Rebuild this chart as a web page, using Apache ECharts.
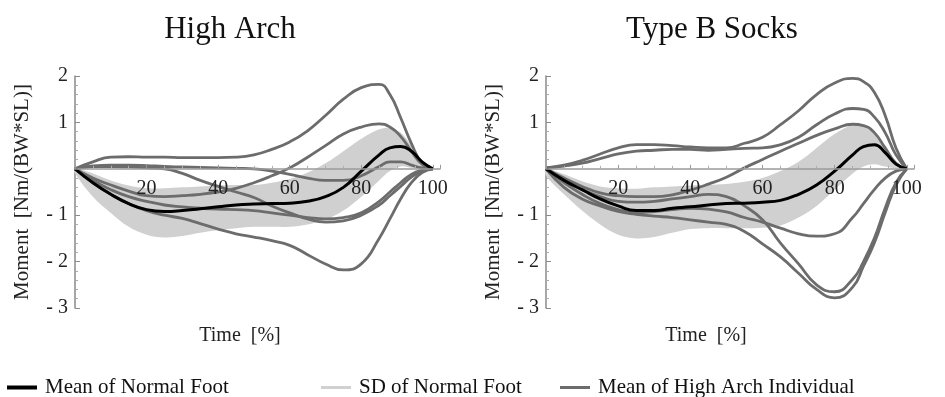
<!DOCTYPE html>
<html>
<head>
<meta charset="utf-8">
<script src="https://cdn.jsdelivr.net/npm/echarts@6/dist/echarts.min.js"></script>
<style>
html,body{margin:0;padding:0;background:#fff;}
#chart{width:945px;height:397px;}
</style>
</head>
<body>
<div id="chart"></div>
<script>
// ---- data ----
const timePct = [0,5,10,15,20,25,30,35,40,45,50,55,60,65,70,75,80,85,88,91,94,97,100];
const xTickLabels = [20,40,60,80,100];
const yTickLabels = [-3,-2,-1,1,2];

// High Arch panel
const meanNormalL = [0,-0.3,-0.55,-0.75,-0.88,-0.92,-0.9,-0.86,-0.82,-0.78,-0.76,-0.75,-0.74,-0.7,-0.6,-0.4,-0.05,0.3,0.45,0.48,0.38,0.15,0];
const sdUpperL = [0,-0.1,-0.25,-0.36,-0.42,-0.42,-0.4,-0.38,-0.36,-0.35,-0.35,-0.3,-0.22,-0.08,0.12,0.38,0.65,0.85,0.88,0.78,0.5,0.18,0];
const sdLowerL = [-0.1,-0.6,-0.95,-1.25,-1.42,-1.48,-1.45,-1.38,-1.32,-1.28,-1.25,-1.25,-1.25,-1.2,-1.1,-0.9,-0.6,-0.25,-0.05,0.05,0.02,0,0];
const archL1 = [0,0.15,0.25,0.26,0.25,0.25,0.24,0.24,0.24,0.25,0.3,0.42,0.58,0.82,1.15,1.5,1.75,1.82,1.6,1.1,0.55,0.12,0];
const archL2 = [0,-0.2,-0.35,-0.48,-0.58,-0.6,-0.58,-0.55,-0.5,-0.42,-0.3,-0.15,0.02,0.25,0.5,0.75,0.9,0.97,0.9,0.7,0.38,0.1,0];
const archL3 = [0,0.06,0.08,0.08,0.07,0.05,0.04,0.03,0.02,0.01,0,-0.05,-0.12,-0.2,-0.25,-0.25,-0.15,0.05,0.15,0.15,0.08,0.02,0];
const archL4 = [0,0.05,0.05,0.04,0.02,0,-0.1,-0.25,-0.38,-0.5,-0.62,-0.8,-0.95,-1.08,-1.15,-1.12,-1.0,-0.78,-0.58,-0.38,-0.18,-0.05,0];
const archL5 = [0,-0.3,-0.55,-0.75,-0.9,-1.0,-1.07,-1.18,-1.3,-1.4,-1.47,-1.55,-1.65,-1.85,-2.05,-2.18,-2.05,-1.5,-1.08,-0.65,-0.3,-0.08,0];
const archL6 = [0,-0.25,-0.45,-0.6,-0.7,-0.78,-0.82,-0.85,-0.87,-0.88,-0.9,-0.95,-1.0,-1.05,-1.08,-1.05,-0.95,-0.7,-0.5,-0.3,-0.12,-0.03,0];

// Type B Socks panel
const meanNormalR = [0,-0.25,-0.45,-0.65,-0.8,-0.9,-0.9,-0.85,-0.82,-0.78,-0.75,-0.74,-0.72,-0.68,-0.55,-0.35,-0.05,0.3,0.48,0.52,0.35,0.1,0];
const sdUpperR = [0,-0.12,-0.27,-0.38,-0.42,-0.43,-0.4,-0.38,-0.36,-0.35,-0.33,-0.28,-0.2,-0.05,0.15,0.45,0.75,0.95,0.92,0.75,0.45,0.15,0];
const sdLowerR = [-0.15,-0.55,-0.9,-1.2,-1.42,-1.5,-1.47,-1.38,-1.3,-1.28,-1.28,-1.28,-1.27,-1.22,-1.05,-0.8,-0.45,-0.1,0.05,0.1,0.05,0.01,0];
const archR1 = [0.02,0.08,0.18,0.32,0.45,0.52,0.52,0.5,0.47,0.45,0.45,0.55,0.68,0.95,1.25,1.6,1.85,1.95,1.88,1.65,1.15,0.45,0];
const archR2 = [0.02,0.06,0.12,0.22,0.32,0.38,0.4,0.42,0.42,0.4,0.42,0.44,0.45,0.52,0.68,0.95,1.18,1.3,1.28,1.12,0.78,0.3,0];
const archR3 = [0,-0.2,-0.38,-0.52,-0.58,-0.6,-0.6,-0.56,-0.46,-0.33,-0.18,0.02,0.2,0.38,0.55,0.72,0.86,0.96,0.93,0.78,0.45,0.12,0];
const archR4 = [0,-0.3,-0.55,-0.75,-0.88,-0.95,-0.92,-0.88,-0.85,-0.87,-0.93,-1.05,-1.15,-1.28,-1.4,-1.45,-1.4,-1.05,-0.75,-0.45,-0.2,-0.05,0];
const archR5 = [0,-0.25,-0.45,-0.6,-0.7,-0.72,-0.7,-0.65,-0.6,-0.55,-0.6,-0.8,-1.1,-1.6,-2.05,-2.5,-2.65,-2.38,-2.0,-1.5,-0.85,-0.3,0];
const archR6 = [0,-0.4,-0.65,-0.8,-0.92,-0.98,-1.02,-1.05,-1.1,-1.15,-1.2,-1.35,-1.62,-1.9,-2.25,-2.6,-2.78,-2.55,-2.1,-1.6,-0.95,-0.35,0];

const panelTitles = ['High Arch', 'Type B Socks'];
const yName = 'Moment  [Nm/(BW*SL)]';
const xName = 'Time  [%]';
const legendNames = ['Mean of Normal Foot', 'SD of Normal Foot', 'Mean of High Arch Individual'];

// ---- build ----
const FONT = '"Liberation Serif","Times New Roman",serif';
const GRAY = '#6c6c6c';
const BAND = '#d0d0d0';
const Y_MIN = -3, Y_MAX = 2, GRID_TOP = 76, GRID_H = 232;
const ZERO_OFFSET = -GRID_H * (0 - Y_MIN) / (Y_MAX - Y_MIN); // move x axis up to y = 0
const pairs = ys => timePct.map((x, i) => [x, ys[i]]);

function panelSeries(idx, mean, up, lo, indiv) {
  const s = [];
  s.push({
    name: legendNames[1], type: 'custom', xAxisIndex: idx, yAxisIndex: idx,
    coordinateSystem: 'cartesian2d', silent: true, clip: false, z: 1,
    color: BAND, itemStyle: { color: BAND },
    data: [[0, 0]],
    renderItem: function (params, api) {
      const top = timePct.map((x, i) => api.coord([x, up[i]]));
      const bot = timePct.map((x, i) => api.coord([x, lo[i]])).reverse();
      return { type: 'polygon', shape: { points: top.concat(bot), smooth: 0.35 }, style: { fill: BAND } };
    }
  });
  indiv.forEach(ys => s.push({
    name: legendNames[2], type: 'line', xAxisIndex: idx, yAxisIndex: idx,
    smooth: true, symbol: 'none', silent: true, color: GRAY, z: 3,
    lineStyle: { color: GRAY, width: 2.8 }, data: pairs(ys)
  }));
  s.push({
    name: legendNames[0], type: 'line', xAxisIndex: idx, yAxisIndex: idx,
    smooth: true, symbol: 'none', silent: true, color: '#000', z: 5,
    lineStyle: { color: '#000', width: 3 }, data: pairs(mean)
  });
  return s;
}

function xAxisOpt(idx) {
  return {
    type: 'value', gridIndex: idx, min: 0, max: 102, interval: 20,
    position: 'bottom', offset: ZERO_OFFSET, z: 10,
    axisLine: { onZero: false, lineStyle: { color: '#9a9a9a', width: 1.5 } },
    axisTick: { show: true, inside: true, length: 4, lineStyle: { color: '#9a9a9a' } },
    minorTick: { show: true, splitNumber: 4, length: 3, lineStyle: { color: '#b0b0b0' } },
    splitLine: { show: false },
    axisLabel: {
      margin: 10, fontFamily: FONT, fontSize: 20, color: '#222',
      formatter: v => xTickLabels.indexOf(v) >= 0 ? String(v) : ''
    }
  };
}
function yAxisOpt(idx) {
  return {
    type: 'value', gridIndex: idx, min: Y_MIN, max: Y_MAX, interval: 1,
    name: yName, nameLocation: 'middle', nameGap: 42, nameRotate: 90,
    nameTextStyle: { fontFamily: FONT, fontSize: 21, color: '#222' },
    axisLine: { show: true, onZero: false, lineStyle: { color: '#8a8a8a', width: 1.5 } },
    axisTick: { show: true, inside: true, length: 5, lineStyle: { color: '#8a8a8a' } },
    minorTick: { show: true, splitNumber: 5, length: 3, lineStyle: { color: '#aaa' } },
    splitLine: { show: false },
    axisLabel: {
      margin: 7, fontFamily: FONT, fontSize: 20, color: '#222',
      formatter: v => yTickLabels.indexOf(v) >= 0 ? (v < 0 ? '- ' + Math.abs(v) : String(v)) : ''
    }
  };
}

function legendOpt(name, left, h) {
  return {
    data: [name], left: left, top: 372, icon: 'rect', itemWidth: 30, itemHeight: h,
    itemGap: 0, selectedMode: false,
    textStyle: { fontFamily: FONT, fontSize: 21, color: '#111', padding: [0, 0, 0, 3] }
  };
}

const option = {
  animation: false,
  backgroundColor: '#fff',
  grid: [
    { left: 75, top: GRID_TOP, width: 365, height: GRID_H },
    { left: 546, top: GRID_TOP, width: 368, height: GRID_H }
  ],
  xAxis: [xAxisOpt(0), xAxisOpt(1)],
  yAxis: [yAxisOpt(0), yAxisOpt(1)],
  legend: [
    legendOpt(legendNames[0], 2, 4),
    legendOpt(legendNames[1], 316, 3),
    legendOpt(legendNames[2], 555, 3)
  ],
  graphic: [
    { type: 'text', x: 230, y: 30, style: { text: panelTitles[0], font: '31px ' + FONT, fill: '#111', textAlign: 'center', textVerticalAlign: 'middle' } },
    { type: 'text', x: 712, y: 30, style: { text: panelTitles[1], font: '31px ' + FONT, fill: '#111', textAlign: 'center', textVerticalAlign: 'middle' } },
    { type: 'text', x: 240, y: 336, style: { text: xName, font: '20px ' + FONT, fill: '#222', textAlign: 'center', textVerticalAlign: 'middle' } },
    { type: 'text', x: 706, y: 336, style: { text: xName, font: '20px ' + FONT, fill: '#222', textAlign: 'center', textVerticalAlign: 'middle' } }
  ],
  series: [].concat(
    panelSeries(0, meanNormalL, sdUpperL, sdLowerL, [archL1, archL2, archL3, archL4, archL5, archL6]),
    panelSeries(1, meanNormalR, sdUpperR, sdLowerR, [archR1, archR2, archR3, archR4, archR5, archR6])
  )
};

const chart = echarts.init(document.getElementById('chart'), null, { renderer: 'canvas' });
chart.setOption(option);
</script>
</body>
</html>
